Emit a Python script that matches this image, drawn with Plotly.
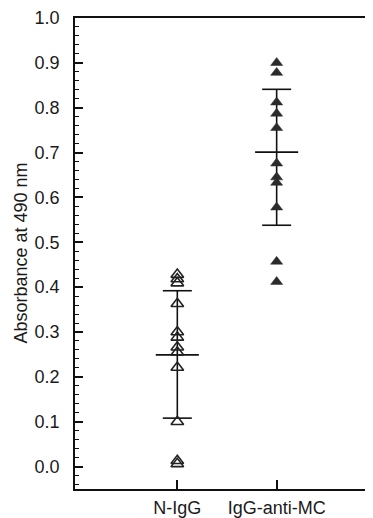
import plotly.graph_objects as go

# Data
groups = ["N-IgG", "IgG-anti-MC"]
group_pos = [1, 2]
n_igg = [0.428, 0.418, 0.409, 0.363, 0.300, 0.288, 0.266, 0.255, 0.221, 0.100, 0.013, 0.006]
anti_mc = [0.900, 0.878, 0.812, 0.787, 0.755, 0.676, 0.645, 0.633, 0.578, 0.457, 0.412]
means = [0.249, 0.701]
bar_upper = [0.392, 0.841]
bar_lower = [0.108, 0.538]
y_ticks = [0.0, 0.1, 0.2, 0.3, 0.4, 0.5, 0.6, 0.7, 0.8, 0.9, 1.0]
y_title = "Absorbance at 490 nm"

CAP_HALF = 0.146
MEAN_HALF = 0.217
FONT = "Liberation Sans, Arial, Helvetica, sans-serif"
TXT = "#1a1a1a"

fig = go.Figure()

# mean and SD bars
for xp, m, hi, lo in zip(group_pos, means, bar_upper, bar_lower):
    xs = [xp, xp, None,
          xp - CAP_HALF, xp + CAP_HALF, None,
          xp - CAP_HALF, xp + CAP_HALF, None,
          xp - MEAN_HALF, xp + MEAN_HALF]
    ys = [lo, hi, None,
          hi, hi, None,
          lo, lo, None,
          m, m]
    fig.add_trace(go.Scatter(x=xs, y=ys, mode="lines",
                             line=dict(color="#111111", width=1.6),
                             hoverinfo="skip", showlegend=False))

fig.add_trace(go.Scatter(
    x=[group_pos[0]] * len(n_igg), y=n_igg, mode="markers",
    marker=dict(symbol="triangle-up-open", size=11, color="#222222",
                line=dict(width=1.6, color="#222222")),
    showlegend=False))

fig.add_trace(go.Scatter(
    x=[group_pos[1]] * len(anti_mc), y=anti_mc, mode="markers",
    marker=dict(symbol="triangle-up", size=10.5, color="#2b2b2b",
                line=dict(width=0.5, color="#2b2b2b")),
    showlegend=False))

# page body adds an 8 px offset, so the figure is 8 px smaller on each axis
fig.update_layout(
    width=365, height=510,
    margin=dict(l=67, r=0, t=10, b=29),
    paper_bgcolor="white", plot_bgcolor="white",
    font=dict(family=FONT, size=18, color=TXT),
)

fig.update_xaxes(
    range=[-0.03, 2.97],
    tickmode="array", tickvals=group_pos, ticktext=groups,
    ticks="inside", ticklen=9, tickwidth=1.5, tickcolor="#111111",
    showline=True, linecolor="#111111", linewidth=1.5, mirror=True,
    showgrid=False, zeroline=False, automargin=False,
    tickfont=dict(size=18, family=FONT, color=TXT),
    ticklabelstandoff=2,
)

fig.update_yaxes(
    range=[-0.05, 1.0],
    tickmode="array", tickvals=y_ticks, ticktext=[f"{v:.1f}" for v in y_ticks],
    ticks="inside", ticklen=8, tickwidth=1.5, tickcolor="#111111",
    minor=dict(dtick=0.02, ticks="inside", ticklen=4, tickwidth=1, tickcolor="#111111", showgrid=False),
    showline=True, linecolor="#111111", linewidth=1.5, mirror=False,
    showgrid=False, zeroline=False, automargin=False,
    tickfont=dict(size=18, family=FONT, color=TXT),
    ticklabelstandoff=10,
)

fig.add_annotation(
    text=y_title, textangle=-90,
    xref="paper", yref="paper", x=(20 - 75) / 298, y=0.5,
    xanchor="center", yanchor="middle", showarrow=False,
    font=dict(size=18, family=FONT, color=TXT),
)

fig.write_html("out.html")
